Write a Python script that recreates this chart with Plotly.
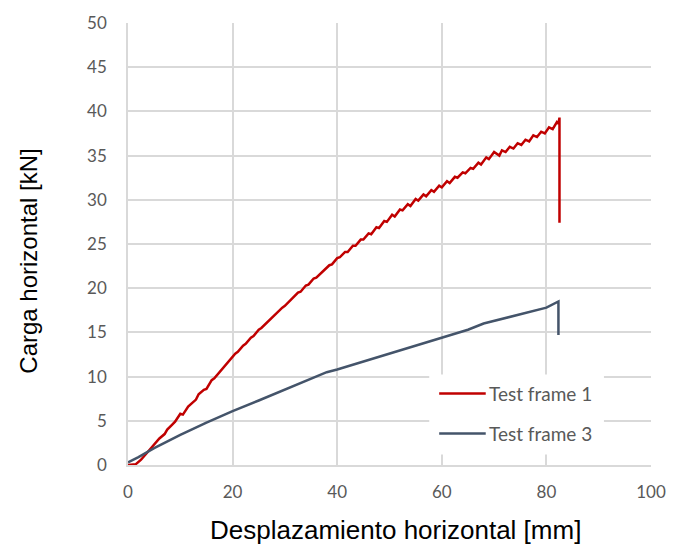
import plotly.graph_objects as go

# Test frame 1: horizontal displacement [mm] and horizontal load [kN]
frame1_disp = [0.0, 1.5, 2.5, 3.5, 4.5, 5.5, 6.0, 7.0, 7.5, 8.5, 9.0, 10.0, 10.5, 11.5, 12.0,
               13.0, 13.5, 14.5, 15.0, 16.0, 16.5, 17.5, 18.0, 19.0, 19.5, 20.5, 21.0, 22.0,
               22.5, 23.5, 24.0, 25.0, 25.5, 26.5, 27.0, 28.0, 28.5, 29.5, 30.0, 31.0, 31.5,
               32.5, 33.0, 34.0, 34.5, 35.5, 36.0, 37.0, 37.5, 38.5, 39.0, 40.0, 40.5, 41.5,
               42.0, 43.0, 43.5, 44.5, 45.0, 46.0, 46.5, 47.5, 48.0, 49.0, 49.5, 50.5, 51.0,
               52.0, 52.5, 53.5, 54.0, 55.0, 55.5, 56.5, 57.0, 58.0, 58.5, 59.5, 60.0, 61.0,
               61.5, 62.5, 63.0, 64.0, 64.5, 65.5, 66.0, 67.0, 67.5, 68.5, 69.0, 70.0, 71.0,
               71.5, 72.2, 73.0, 73.7, 74.5, 75.2, 76.0, 76.7, 77.5, 78.2, 79.0, 79.7, 80.5,
               81.2, 82.0, 82.3, 82.5, 82.5]
frame1_load = [0.0, 0.1, 0.6, 1.3, 2.0, 2.6, 3.0, 3.5, 4.0, 4.6, 4.9, 5.8, 5.7, 6.6, 6.9,
               7.4, 8.0, 8.5, 8.6, 9.6, 9.8, 10.5, 10.9, 11.6, 11.9, 12.6, 12.8, 13.5,
               13.7, 14.4, 14.6, 15.3, 15.5, 16.1, 16.4, 17.0, 17.2, 17.8, 18.0, 18.6, 18.8,
               19.5, 19.6, 20.3, 20.4, 21.1, 21.2, 21.8, 22.0, 22.6, 22.7, 23.4, 23.5, 24.1,
               24.1, 24.8, 24.8, 25.5, 25.5, 26.2, 26.1, 26.9, 26.8, 27.6, 27.5, 28.3, 28.1,
               28.9, 28.8, 29.5, 29.3, 30.1, 29.9, 30.6, 30.4, 31.1, 30.9, 31.6, 31.4, 32.1,
               31.9, 32.6, 32.5, 33.1, 33.0, 33.6, 33.5, 34.2, 34.0, 34.8, 34.6, 35.4, 35.0,
               35.6, 35.4, 36.0, 35.8, 36.4, 36.2, 36.8, 36.6, 37.3, 37.1, 37.7, 37.5, 38.2,
               38.0, 38.8, 38.6, 39.3, 27.4]

# Test frame 3
frame3_disp = [0.0, 2.0, 5.0, 10.0, 15.0, 20.0, 25.0, 30.0, 35.0, 38.0, 40.0, 45.0, 50.0,
               55.0, 60.0, 65.0, 68.0, 70.0, 75.0, 80.0, 82.3, 82.3]
frame3_load = [0.3, 0.9, 1.9, 3.4, 4.8, 6.1, 7.3, 8.5, 9.7, 10.5, 10.8, 11.7, 12.6,
               13.5, 14.4, 15.3, 16.0, 16.3, 17.0, 17.8, 18.5, 14.7]

series_names = ["Test frame 1", "Test frame 3"]
series_colors = ["#c00000", "#44546a"]

x_ticks = [0, 20, 40, 60, 80, 100]
y_ticks = [0, 5, 10, 15, 20, 25, 30, 35, 40, 45, 50]

grid = "#d9d9d9"
label_family = "Lato, 'Open Sans', sans-serif"
tick_font = dict(family=label_family, size=17, color="#595959")
legend_font = dict(family=label_family, size=19, color="#595959")
title_family = "Liberation Sans, Arial, sans-serif"

fig = go.Figure()
for xs, ys, name, color in [(frame1_disp, frame1_load, series_names[0], series_colors[0]),
                            (frame3_disp, frame3_load, series_names[1], series_colors[1])]:
    fig.add_trace(go.Scatter(x=xs, y=ys, mode="lines", name=name, showlegend=False,
                             line=dict(color=color, width=2.5)))

# Legend box drawn over the grid in the lower right corner
shapes = [dict(type="rect", xref="paper", yref="paper", x0=0.576, x1=0.91, y0=0.024, y1=0.205,
               fillcolor="white", line=dict(width=0), layer="above")]
annotations = []
for i, (name, color) in enumerate(zip(series_names, series_colors)):
    yy = 0.1616 - i * 0.0904
    shapes.append(dict(type="line", xref="paper", yref="paper", x0=0.595, x1=0.684, y0=yy, y1=yy,
                       line=dict(color=color, width=2.5), layer="above"))
    annotations.append(dict(text=name, x=0.687, y=yy, xref="paper", yref="paper", showarrow=False,
                            xanchor="left", yanchor="middle", font=legend_font))

annotations += [
    dict(text="Desplazamiento horizontal [mm]", x=0.512, y=-0.148, xref="paper", yref="paper",
         showarrow=False, font=dict(family=title_family, size=26, color="#000000"),
         xanchor="center", yanchor="middle"),
    dict(text="Carga horizontal [kN]", x=-0.1895, y=0.462, xref="paper", yref="paper",
         showarrow=False, font=dict(family=title_family, size=24, color="#000000"),
         textangle=-90, xanchor="center", yanchor="middle"),
]

fig.update_layout(
    width=678, height=545,
    margin=dict(l=128, r=12, t=23, b=80),
    paper_bgcolor="white", plot_bgcolor="white",
    showlegend=False,
    shapes=shapes,
    annotations=annotations,
    xaxis=dict(range=[0, 100], tickvals=x_ticks, showgrid=True, gridcolor=grid, gridwidth=1.5,
               zeroline=False, showline=True, linecolor=grid, linewidth=1.5,
               tickfont=tick_font, ticklabelstandoff=11, ticklabeloverflow="allow",
               fixedrange=True),
    yaxis=dict(range=[0, 50], tickvals=y_ticks, showgrid=True, gridcolor=grid, gridwidth=1.5,
               zeroline=False, showline=True, linecolor=grid, linewidth=1.5,
               tickfont=tick_font, ticklabelstandoff=16, fixedrange=True),
)

fig.write_html("out.html")
